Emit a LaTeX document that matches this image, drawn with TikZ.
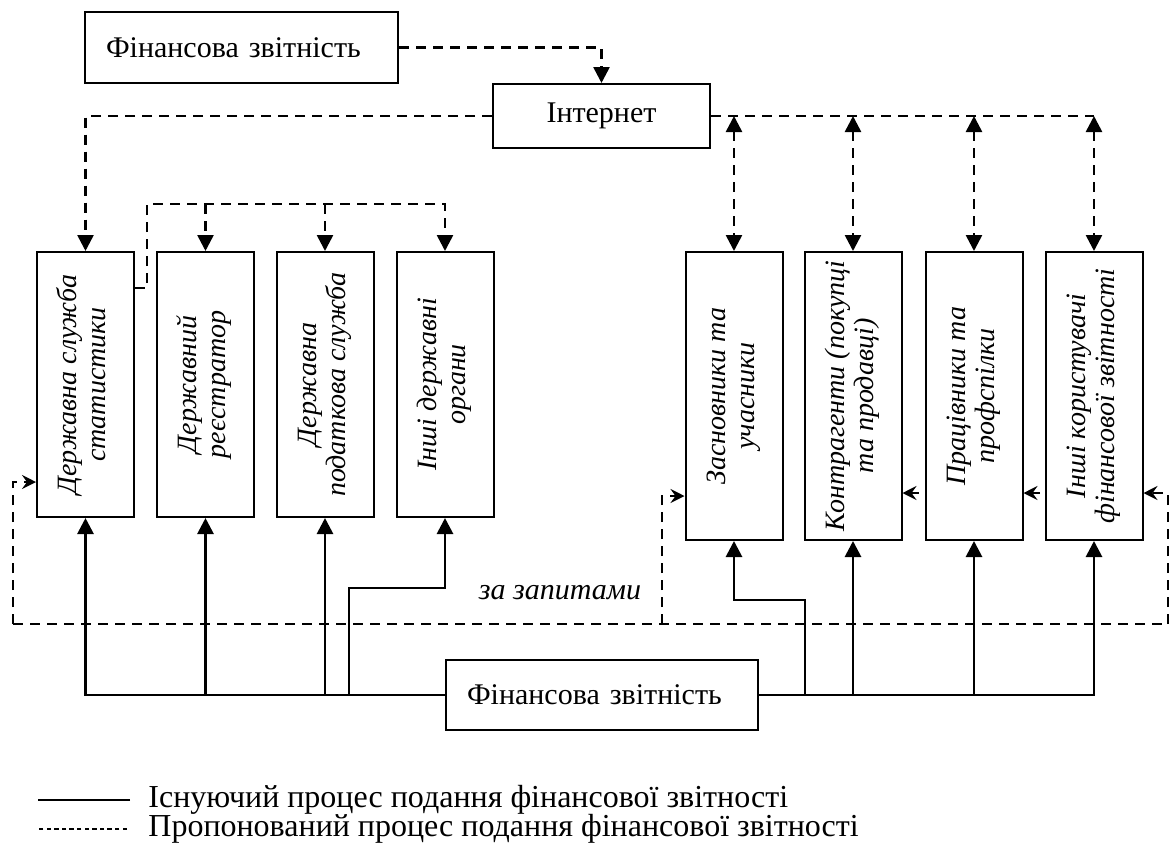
\documentclass[tikz,border=0pt]{standalone}
\usepackage{fontspec}
\setmainfont{Liberation Serif}
\usetikzlibrary{arrows.meta}
\tikzset{sm/.tip={Stealth[length=7pt,width=7pt,inset=2.5pt]}}

\begin{document}
\begin{tikzpicture}[x=0.5pt, y=-0.5pt,
        >={Triangle[length=8pt,width=8pt]},
        box/.style={draw, line width=1pt, inner sep=0pt, font=\fontsize{15}{18}\selectfont},
        fzbox/.style={box, inner xsep=10.5pt, align=left, minimum height=35pt},
        lbox/.style={box, minimum width=48.5pt, minimum height=132.5pt, font=\itshape\fontsize{14}{14.5}\selectfont},
        rbox/.style={lbox, minimum height=144pt},
        sol/.style={line width=1.4pt},
        dsh/.style={line width=1.3pt, dash pattern=on 5pt off 3.5pt}]

            \path[use as bounding box, fill=white] (0, 0) rectangle (1174, 847);

            \node[fzbox, text width=135.5pt, minimum height=35.5pt] (fz1) at (241.5, 47.5) {Фінансова звітність};
            \node[box, minimum width=108.5pt, minimum height=32pt] (net) at (601.5, 116) {Інтернет};
            \node[fzbox, text width=135pt] (fz2) at (602, 695) {Фінансова звітність};

            \node[lbox] (b1) at (85.5, 384.5) {\rotatebox{90}{\begin{tabular}{@{}c@{}}Державна служба\\статистики\end{tabular}}};
            \node[lbox] (b2) at (205.5, 384.5) {\rotatebox{90}{\begin{tabular}{@{}c@{}}Державний\\реєстратор\end{tabular}}};
            \node[lbox] (b3) at (325, 384.5) {\rotatebox{90}{\begin{tabular}{@{}c@{}}Державна\\податкова служба\end{tabular}}};
            \node[lbox] (b4) at (445, 384.5) {\rotatebox{90}{\begin{tabular}{@{}c@{}}Інші державні\\органи\end{tabular}}};

            \node[rbox] (b5) at (734, 396) {\rotatebox{90}{\begin{tabular}{@{}c@{}}Засновники та\\учасники\end{tabular}}};
            \node[rbox] (b6) at (853, 396) {\rotatebox{90}{\begin{tabular}{@{}c@{}}Контрагенти (покупці\\та продавці)\end{tabular}}};
            \node[rbox] (b7) at (974, 396) {\rotatebox{90}{\begin{tabular}{@{}c@{}}Працівники та\\профспілки\end{tabular}}};
            \node[rbox] (b8) at (1094, 396) {\rotatebox{90}{\begin{tabular}{@{}c@{}}Інші користувачі\\фінансової звітності\end{tabular}}};

            \node[font=\itshape\fontsize{15}{18}\selectfont] (zq) at (560, 593) {за запитами};

            \coordinate (s1) at (147, 288);
            \coordinate (g1) at (147, 204);
            \coordinate (k4) at (349, 588);
            \coordinate (k5) at (805, 600);
            \coordinate (z1) at (13, 624);
            \coordinate (z2) at (1168, 624);
            \coordinate (z3) at (662, 624);
            \coordinate (r6) at (919, 493);
            \coordinate (r7) at (1040, 493);

            % dashed: proposed
            \draw[dsh, ->] (fz1.east) -| (net.north);
            \draw[dsh, ->] (net.west) -| (b1.north);
            \draw[dsh] (net.east) -- (net.east -| b8.north);
            \foreach \b in {b5, b6, b7, b8}
                \draw[dsh, <->] (net.east -| \b.north) -- (\b.north);
            \draw[dsh, ->] (s1 -| b1.east) -- (s1) -- (g1) -| (b4.north);
            \foreach \b in {b2, b3}
                \draw[dsh, ->] (g1 -| \b.north) -- (\b.north);

            \draw[dsh] (z1) -- (z2);
            \draw[dsh, -sm] (z1) |- (b1.west |- 0, 482);
            \draw[dsh, -sm] (z3) |- (b5.west |- 0, 496);
            \draw[dsh, -sm] (z2) |- (b8.east |- 0, 493);
            \draw[dsh, -sm] (r6) -- (r6 -| b6.east);
            \draw[dsh, -sm] (r7) -- (r7 -| b7.east);

            % solid: existing
            \draw[sol, ->] (fz2.west) -| (b1.south);
            \foreach \b in {b2, b3}
                \draw[sol, ->] (fz2.west -| \b.south) -- (\b.south);
            \draw[sol, ->] (fz2.west -| k4) -- (k4) -| (b4.south);
            \draw[sol, ->] (fz2.east) -| (b8.south);
            \foreach \b in {b6, b7}
                \draw[sol, ->] (fz2.east -| \b.south) -- (\b.south);
            \draw[sol, ->] (fz2.east -| k5) -- (k5) -| (b5.south);

            % legend
            \node[anchor=west, inner sep=0pt, font=\fontsize{16}{18}\selectfont] (leg1) at (148, 800) {Існуючий процес подання фінансової звітності};
            \node[anchor=west, inner sep=0pt, font=\fontsize{16}{18}\selectfont] (leg2) at (148, 829) {Пропонований процес подання фінансової звітності};
            \draw[line width=0.8pt] ([xshift=-9pt]leg1.west) -- ++(-46pt, 0);
            \draw[line width=0.7pt, dash pattern=on 2.2pt off 1.6pt] ([xshift=-10.5pt]leg2.west) -- ++(-44.5pt, 0);

\end{tikzpicture}
\end{document}
